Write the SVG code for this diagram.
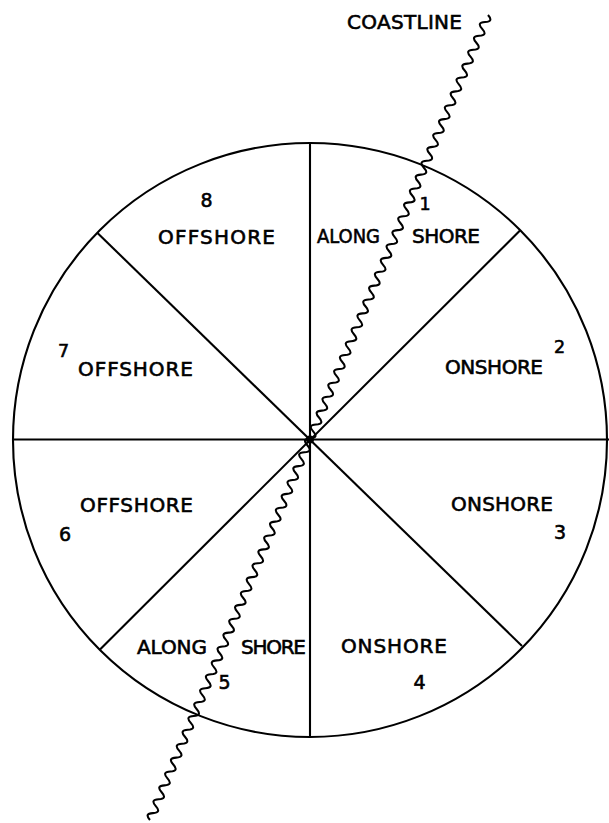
<svg xmlns="http://www.w3.org/2000/svg" width="609" height="823" viewBox="0 0 609 823">
<style>
.t{font-family:"DejaVu Sans","Liberation Sans",sans-serif;font-size:20px;fill:#000;stroke:#000;stroke-width:0.6}
.n{font-family:"DejaVu Sans","Liberation Sans",sans-serif;font-size:19px;fill:#000;stroke:#000;stroke-width:0.6}
.s{font-family:"DejaVu Sans","Liberation Sans",sans-serif;font-size:17.5px;fill:#000;stroke:#000;stroke-width:0.6}
.ln{stroke:#000;stroke-width:2.1;fill:none}
</style>
<rect width="609" height="823" fill="#fff"/>
<g id="wheel">
<circle cx="310" cy="440" r="297" class="ln" stroke-width="2.5"/>
<line x1="310" y1="143" x2="310" y2="737" class="ln"/>
<line x1="12" y1="439.5" x2="609" y2="439.5" class="ln"/>
<line x1="97.5" y1="233" x2="522" y2="646" class="ln"/>
<line x1="100" y1="649.5" x2="520" y2="230.5" class="ln"/>
<circle cx="310" cy="439.5" r="4" fill="#000"/>
</g>
<g id="coastline">
<path class="ln" stroke-width="2.3" d="M488,15 q5.9,6.6 -2.914,6.94 t-2.914,6.94 -2.914,6.94 -2.914,6.94 -2.914,6.94 -2.914,6.94 -2.914,6.94 -2.914,6.94 -2.914,6.94 -2.914,6.94 -2.914,6.94
-2.914,6.94 -2.914,6.94 -2.914,6.94 -2.914,6.94 -2.914,6.94 -2.914,6.94 -2.914,6.94 -2.914,6.94 -2.914,6.94 -2.914,6.94
-2.914,6.94 -2.914,6.94 -2.914,6.94 -2.914,6.94 -2.914,6.94 -2.914,6.94 -2.914,6.94 -2.914,6.94 -2.914,6.94 -2.914,6.94
-2.914,6.94 -2.914,6.94 -2.914,6.94 -2.914,6.94 -2.914,6.94 -2.914,6.94 -2.914,6.94 -2.914,6.94 -2.914,6.94 -2.914,6.94
-2.914,6.94 -2.914,6.94 -2.914,6.94 -2.914,6.94 -2.914,6.94 -2.914,6.94 -2.914,6.94 -2.914,6.94 -2.914,6.94 -2.914,6.94
-2.914,6.94 -2.914,6.94 -2.914,6.94 -2.914,6.94 -2.914,6.94 -2.914,6.94 -2.914,6.94 -2.914,6.94 -2.914,6.94 -2.914,6.94
-2.914,6.94 -2.914,6.94 -2.914,6.94 -2.914,6.94 -2.914,6.94 -2.914,6.94 -2.914,6.94 -2.914,6.94 -2.914,6.94 -2.914,6.94
-2.914,6.94 -2.914,6.94 -2.914,6.94 -2.914,6.94 -2.914,6.94 -2.914,6.94 -2.914,6.94 -2.914,6.94 -2.914,6.94 -2.914,6.94
-2.914,6.94 -2.914,6.94 -2.914,6.94 -2.914,6.94 -2.914,6.94 -2.914,6.94 -2.914,6.94 -2.914,6.94 -2.914,6.94 -2.914,6.94
-2.914,6.94 -2.914,6.94 -2.914,6.94 -2.914,6.94 -2.914,6.94 -2.914,6.94 -2.914,6.94 -2.914,6.94 -2.914,6.94 -2.914,6.94
-2.914,6.94 -2.914,6.94 -2.914,6.94 -2.914,6.94 -2.914,6.94 -2.914,6.94 -2.914,6.94 -2.914,6.94 -2.914,6.94 -2.914,6.94
-2.914,6.94 -2.914,6.94 -2.914,6.94 -2.914,6.94 -2.914,6.94"/>
<text class="t" x="347" y="29" textLength="115" lengthAdjust="spacing">COASTLINE</text>
</g>
<g id="sector1">
<text class="s" x="425" y="210" text-anchor="middle">1</text>
<text class="t" x="317" y="243" textLength="63" lengthAdjust="spacingAndGlyphs">ALONG</text>
<text class="t" x="412" y="243" textLength="68" lengthAdjust="spacing">SHORE</text>
</g>
<g id="sector2">
<text class="t" x="445" y="374" textLength="98" lengthAdjust="spacing">ONSHORE</text>
<text class="s" x="559.5" y="353" text-anchor="middle">2</text>
</g>
<g id="sector3">
<text class="t" x="451" y="511" textLength="102" lengthAdjust="spacing">ONSHORE</text>
<text class="n" x="560" y="539" text-anchor="middle">3</text>
</g>
<g id="sector4">
<text class="t" x="341" y="653" textLength="106" lengthAdjust="spacing">ONSHORE</text>
<text class="n" x="419.5" y="689" text-anchor="middle">4</text>
</g>
<g id="sector5">
<text class="t" x="137" y="654" textLength="70" lengthAdjust="spacing">ALONG</text>
<text class="t" x="241" y="654" textLength="65" lengthAdjust="spacing">SHORE</text>
<text class="n" x="224.5" y="689" text-anchor="middle">5</text>
</g>
<g id="sector6">
<text class="t" x="80" y="512" textLength="113" lengthAdjust="spacing">OFFSHORE</text>
<text class="n" x="65" y="541" text-anchor="middle">6</text>
</g>
<g id="sector7">
<text class="s" x="63.5" y="357" text-anchor="middle">7</text>
<text class="t" x="78" y="376" textLength="115" lengthAdjust="spacing">OFFSHORE</text>
</g>
<g id="sector8">
<text class="n" x="206.5" y="207" text-anchor="middle">8</text>
<text class="t" x="158" y="244" textLength="117" lengthAdjust="spacing">OFFSHORE</text>
</g>
</svg>
